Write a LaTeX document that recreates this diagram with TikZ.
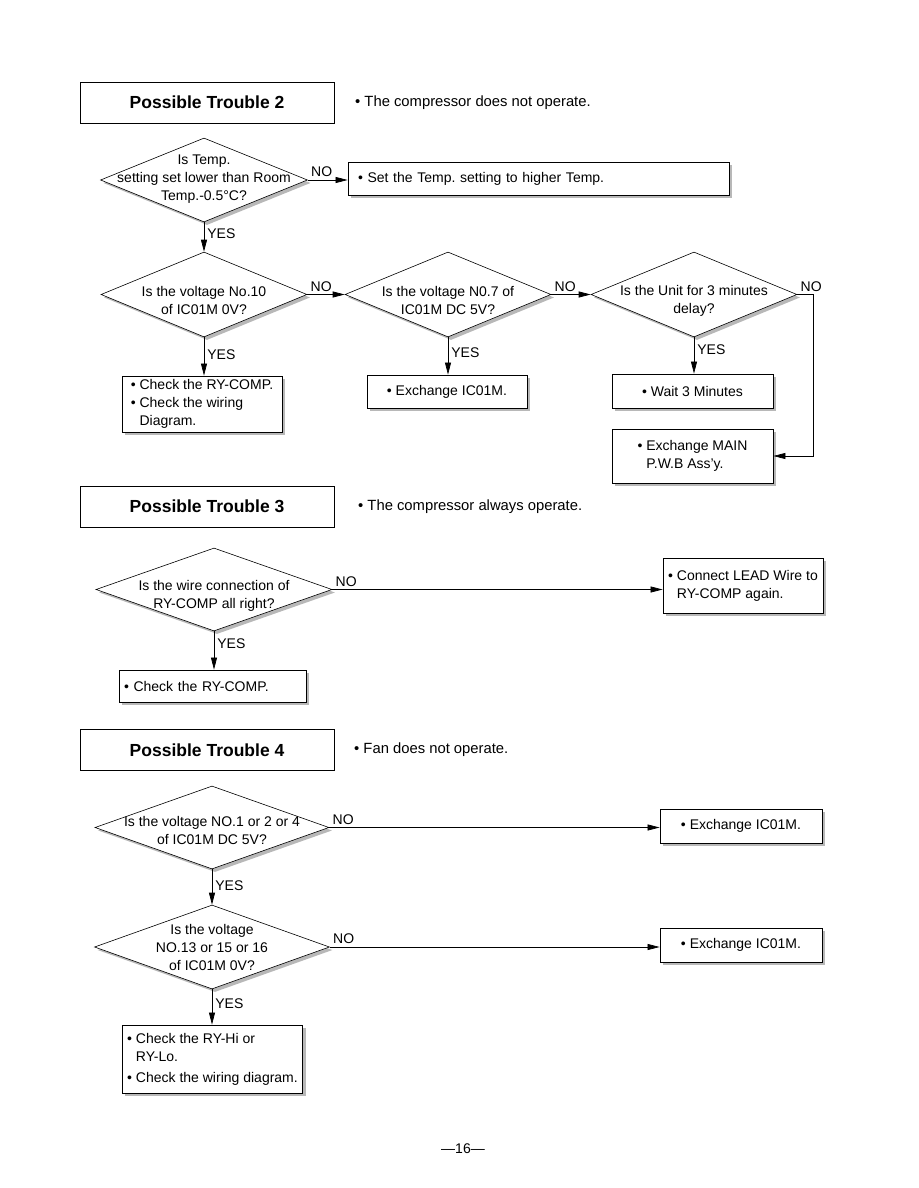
\documentclass[tikz,border=0pt]{standalone}
\usepackage{fontspec}
\setmainfont{Liberation Sans}
\usetikzlibrary{arrows.meta, shapes.geometric, shadows}

\newcommand{\bodysize}{\fontsize{14}{18}\selectfont}
\newcommand{\bul}{\textbullet\ }
\newcommand{\hang}{\phantom{\textbullet\ }}
\frenchspacing

\begin{document}
\begin{tikzpicture}[x=1pt, y=-1pt, >={Triangle[length=12pt, width=6pt]}, font=\bodysize,
  sh/.style={drop shadow={shadow xshift=3pt, shadow yshift=-3pt, fill=black!28, opacity=1}},
  T/.style={draw, line width=0.9pt, minimum width=254pt, minimum height=41pt, font=\fontsize{17.5}{21}\selectfont\bfseries},
  Q/.style={diamond, draw, fill=white, sh, line width=0.6pt, inner sep=0pt},
  QT/.style={align=center, inner sep=0pt},
  A/.style={draw, fill=white, sh, line width=0.8pt, inner xsep=5pt, inner ysep=2pt, align=left},
  S/.style={anchor=west, inner sep=0pt, font=\fontsize{14.8}{18}\selectfont},
  lbl/.style={inner sep=3pt},
  conn/.style={->, line width=0.7pt}]

\useasboundingbox (0,0) rectangle (918,1188);

% ---- Possible Trouble 2
\node[T] (t2) at (207,102.5) {Possible Trouble 2};
\node[S] (s2) at (355,102.5) {\bul The compressor does not operate.};

\node[Q, minimum width=207pt, minimum height=84pt] (d1) at (204,180) {};
\node[QT] (q1) at ([yshift=1pt]d1.center) {Is Temp.\\ setting set lower than Room\\ Temp.-0.5°C?};
\node[A, text width=361pt, inner xsep=10pt, minimum height=33pt] (b1) at (538.5,178.5) {\bul Set the Temp. setting to higher Temp.};

\node[Q, minimum width=206pt, minimum height=85pt] (d2) at (204,294.5) {};
\node[QT] (q2) at ([yshift=-6pt]d2.center) {Is the voltage No.10\\ of IC01M 0V?};
\node[Q, minimum width=206pt, minimum height=85pt] (d3) at (448,294.5) {};
\node[QT] (q3) at ([yshift=-6pt]d3.center) {Is the voltage N0.7 of\\ IC01M DC 5V?};
\node[Q, minimum width=206pt, minimum height=85pt] (d4) at (694,294.5) {};
\node[QT] (q4) at ([yshift=-6pt]d4.center) {Is the Unit for 3 minutes\\ delay?};

\node[A, minimum width=160pt, minimum height=56pt] (b2) at (202,404) {\bul Check the RY-COMP.\\ \bul Check the wiring\\ \hang Diagram.};
\node[A, minimum width=160pt, minimum height=33pt] (b3) at (447,391.5) {\bul Exchange IC01M.};
\node[A, minimum width=161pt, minimum height=34pt] (b4) at (692.5,391) {\bul Wait 3 Minutes};
\node[A, minimum width=161pt, minimum height=54pt] (b5) at (692.5,456) {\bul Exchange MAIN\\ \hang P.W.B Ass'y.};
\coordinate (c4) at (813,294.5);

\draw[conn] (d1.east) -- node[lbl, above right, pos=0] (n1) {NO} (d1.east -| b1.west);
\draw[conn] (d1.south) -- node[lbl, right, pos=0.4] (y1) {YES} (d2.north);
\draw[conn] (d2.east) -- node[lbl, above right, pos=0] (n2) {NO} (d3.west);
\draw[conn] (d3.east) -- node[lbl, above right, pos=0] (n3) {NO} (d4.west);
\draw[conn] (d2.south) -- node[lbl, right, pos=0.45] (y2) {YES} (d2.south |- b2.north);
\draw[conn] (d3.south) -- node[lbl, right, pos=0.4] (y3) {YES} (d3.south |- b3.north);
\draw[conn] (d4.south) -- node[lbl, right, pos=0.33] (y4) {YES} (d4.south |- b4.north);
\draw[conn] (d4.east) -- node[lbl, above right, pos=0] (n4) {NO} (c4) |- (b5.east);

% ---- Possible Trouble 3
\node[T] (t3) at (207,506.5) {Possible Trouble 3};
\node[S] (s3) at (358,506.5) {\bul The compressor always operate.};

\node[Q, minimum width=236pt, minimum height=83pt] (d5) at (214,589.5) {};
\node[QT] (q5) at ([yshift=-6pt]d5.center) {Is the wire connection of\\ RY-COMP all right?};
\node[A, minimum width=160pt, minimum height=55pt] (b6) at (743,585.5) {\bul Connect LEAD Wire to\\ \hang RY-COMP again.};
\node[A, text width=177pt, minimum height=32pt] (b7) at (212.5,686) {\bul Check the RY-COMP.};

\draw[conn] (d5.east) -- node[lbl, above right, pos=0] (n5) {NO} (d5.east -| b6.west);
\draw[conn] (d5.south) -- node[lbl, right, pos=0.33] (y5) {YES} (d5.south |- b7.north);

% ---- Possible Trouble 4
\node[T] (t4) at (207,750) {Possible Trouble 4};
\node[S] (s4) at (354,750) {\bul Fan does not operate.};

\node[Q, minimum width=234pt, minimum height=83pt] (d6) at (212,827.5) {};
\node[QT] (q6) at ([yshift=-3pt]d6.center) {Is the voltage NO.1 or 2 or 4\\ of IC01M DC 5V?};
\node[Q, minimum width=235pt, minimum height=84pt] (d7) at (212,947) {};
\node[QT] (q7) at (d7.center) {Is the voltage\\ NO.13 or 15 or 16\\ of IC01M 0V?};
\node[A, minimum width=162pt, minimum height=34pt] (b8) at (741,826) {\bul Exchange IC01M.};
\node[A, minimum width=162pt, minimum height=34pt] (b9) at (741,945) {\bul Exchange IC01M.};
\node[A, minimum width=177pt, minimum height=68pt] (b10) at (212.5,1059) {\bul Check the RY-Hi or\\ \hang RY-Lo.\\[3pt] \bul Check the wiring diagram.};

\draw[conn] (d6.east) -- node[lbl, above right, pos=0] (n6) {NO} (d6.east -| b8.west);
\draw[conn] (d6.south) -- node[lbl, right, pos=0.47] (y6) {YES} (d7.north);
\draw[conn] (d7.east) -- node[lbl, above right, pos=0] (n7) {NO} (d7.east -| b9.west);
\draw[conn] (d7.south) -- node[lbl, right, pos=0.42] (y7) {YES} (d7.south |- b10.north);

\node (pg) at (463,1149) {---16---};

\end{tikzpicture}
\end{document}
